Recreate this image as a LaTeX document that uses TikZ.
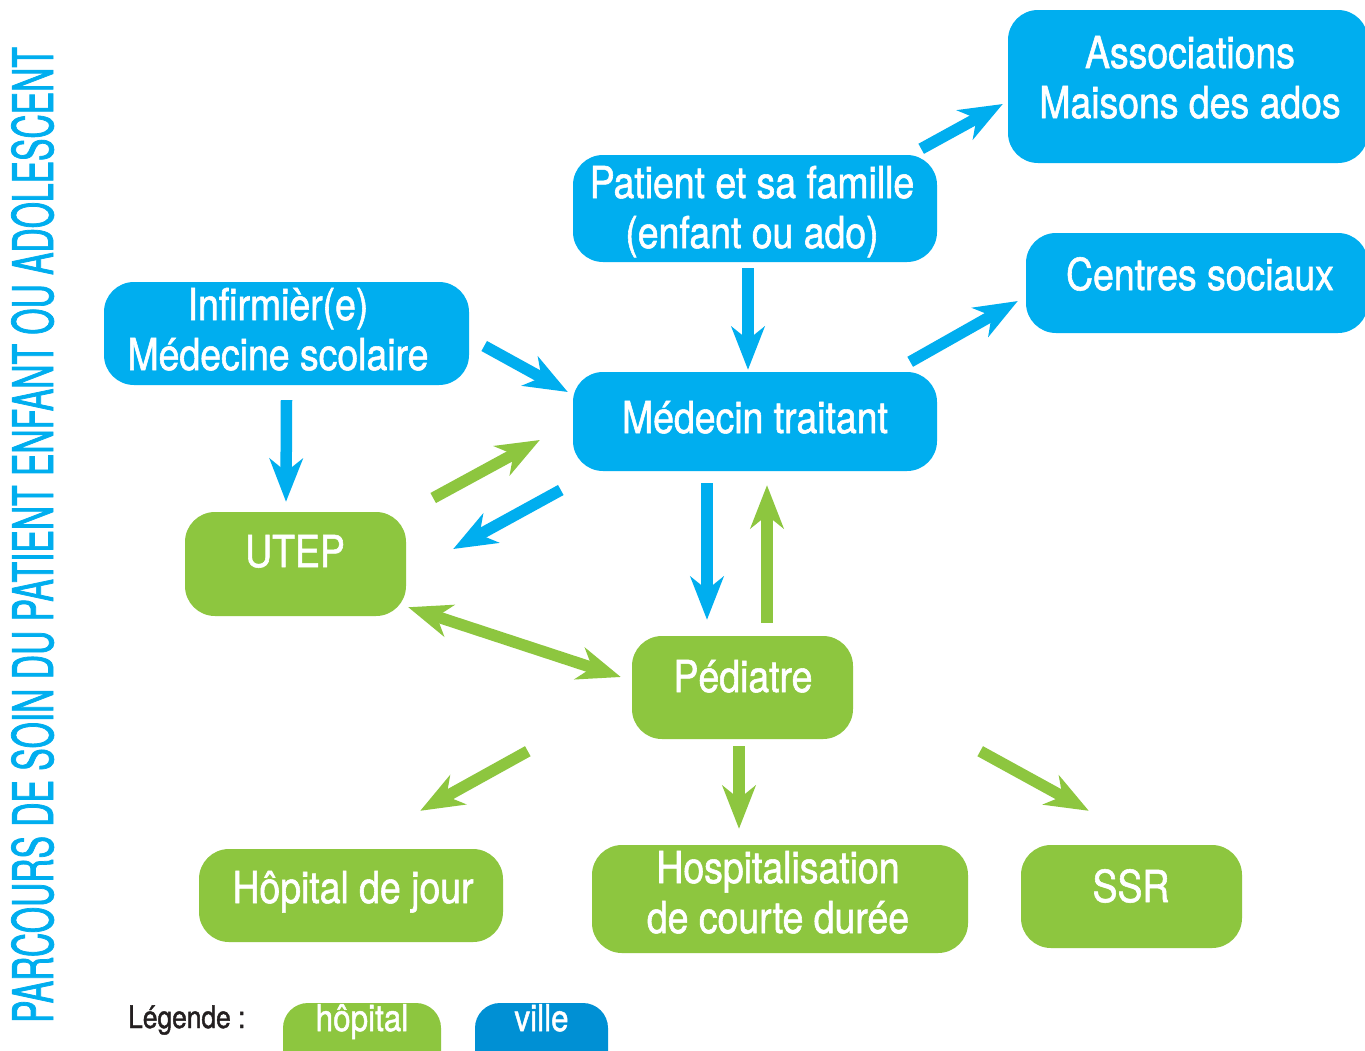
\documentclass[tikz,border=0pt]{standalone}
\usepackage{fontspec}
\setmainfont[FakeStretch=0.85,FakeBold=1.3]{TeX Gyre Heros}
\newfontfamily\vfont[FakeStretch=0.6,FakeBold=1.3]{TeX Gyre Heros}
\usetikzlibrary{arrows.meta}
\definecolor{cblue}{HTML}{00AEEF}
\definecolor{cgreen}{HTML}{8DC63F}
\definecolor{cville}{HTML}{0090D4}
\definecolor{cdark}{HTML}{231F20}
\begin{document}
\begin{tikzpicture}[x=1pt,y=-1pt,
  box/.style={rounded corners=30pt, inner sep=0pt, draw=none},
  bbox/.style={box, fill=cblue},
  gbox/.style={box, fill=cgreen},
  lbl/.style={text=white, font=\fontsize{44}{50}\selectfont, align=center, anchor=base, inner sep=0pt},
  conn/.style={line width=11.5pt, -{Stealth[length=43pt,width=33pt,inset=13pt]}},
  dconn/.style={line width=11.5pt, {Stealth[length=43pt,width=33pt,inset=13pt]}-{Stealth[length=43pt,width=33pt,inset=13pt]}},
  bl/.style={draw=cblue},
  gr/.style={draw=cgreen}]
\clip (0,0) rectangle (1365,1050);
\fill[white] (0,0) rectangle (1365,1050);

% boxes
\node[bbox, minimum width=360pt, minimum height=153pt] (assoc) at (1188,86.5) {};
\node[bbox, minimum width=364pt, minimum height=107pt] (pat) at (755,208.5) {};
\node[bbox, minimum width=342pt, minimum height=100pt] (cent) at (1197,283) {};
\node[bbox, minimum width=365pt, minimum height=103pt] (inf) at (286.5,333.5) {};
\node[bbox, minimum width=364pt, minimum height=99pt] (med) at (755,421.5) {};
\node[gbox, minimum width=221pt, minimum height=104pt] (utep) at (295.5,564) {};
\node[gbox, minimum width=221pt, minimum height=103pt] (ped) at (742.5,687.5) {};
\node[gbox, minimum width=304pt, minimum height=93pt] (hdj) at (351,895.5) {};
\node[gbox, minimum width=376pt, minimum height=108pt] (hosp) at (780,899) {};
\node[gbox, minimum width=221pt, minimum height=103pt] (ssr) at (1131.5,896.5) {};

% labels (base = baseline of last line)
\node[lbl] (assoc-t) at (1190,118) {Associations\\Maisons des ados};
\node[lbl] (pat-t) at (752,248) {Patient et sa famille\\(enfant ou ado)};
\node[lbl] (cent-t) at (1200,290) {Centres sociaux};
\node[lbl] (inf-t) at (278,370) {Infirmièr(e)\\Médecine scolaire};
\node[lbl] (med-t) at (755,433) {Médecin traitant};
\node[lbl] (utep-t) at (295,567) {UTEP};
\node[lbl] (ped-t) at (743,692) {Pédiatre};
\node[lbl] (hdj-t) at (353,903) {Hôpital de jour};
\node[lbl] (hosp-t) at (778,933) {Hospitalisation\\de courte durée};
\node[lbl] (ssr-t) at (1131,902) {SSR};

% connectors
\draw[conn,bl] ([shift={(-16,-6)}]pat.north east) -- ([shift={(-5,17.5)}]assoc.west);
\draw[conn,bl] ([shift={(-27,-10)}]med.north east) -- ([shift={(-8,18)}]cent.west);
\draw[conn,bl] ([shift={(-7,6)}]pat.south) -- ([shift={(-7,-2)}]med.north);
\draw[conn,bl] ([shift={(15,12.5)}]inf.east) -- ([shift={(-5,-29.5)}]med.west);
\draw[conn,bl] ([shift={(0,15)}]inf.south) -- ([shift={(-9.5,-10)}]utep.north);
\draw[conn,gr] ([shift={(27,-66)}]utep.east) -- ([shift={(-33,18.5)}]med.west);
\draw[conn,bl] ([shift={(-12,68.5)}]med.west) -- ([shift={(47,-15)}]utep.east);
\draw[conn,bl] ([shift={(-48,12)}]med.south) -- ([shift={(-35.5,-16)}]ped.north);
\draw[conn,gr] ([shift={(24.5,-13)}]ped.north) -- ([shift={(12,14)}]med.south);
\draw[dconn,gr] ([shift={(2,-9)}]utep.south east) -- ([shift={(-11,-10.5)}]ped.west);
\draw[conn,gr] ([shift={(-104,12)}]ped.south west) -- ([shift={(-83,-38)}]hdj.north east);
\draw[conn,gr] ([shift={(-3.5,7)}]ped.south) -- ([shift={(-41,-16)}]hosp.north);
\draw[conn,gr] ([shift={(127,12)}]ped.south east) -- ([shift={(68,-34)}]ssr.north west);

% side title
\node[rotate=90, anchor=base, inner sep=0pt, text=cblue, font=\vfont\fontsize{56}{56}\selectfont] (title) at (53,535) {PARCOURS DE SOIN DU PATIENT ENFANT OU ADOLESCENT};

% legend
\node[anchor=base west, inner sep=0pt, text=cdark, font=\fontsize{31}{31}\selectfont] (leg) at (128,1028) {Légende :};
\node[box, rounded corners=25pt, fill=cgreen, minimum width=158pt, minimum height=77pt] (leg-h) at (362,1041.5) {};
\node[box, rounded corners=25pt, fill=cville, minimum width=133pt, minimum height=77pt] (leg-v) at (541.5,1041.5) {};
\node[lbl, font=\fontsize{37}{37}\selectfont] (leg-ht) at (362,1031) {hôpital};
\node[lbl, font=\fontsize{37}{37}\selectfont] (leg-vt) at (541.5,1031) {ville};
\end{tikzpicture}
\end{document}
